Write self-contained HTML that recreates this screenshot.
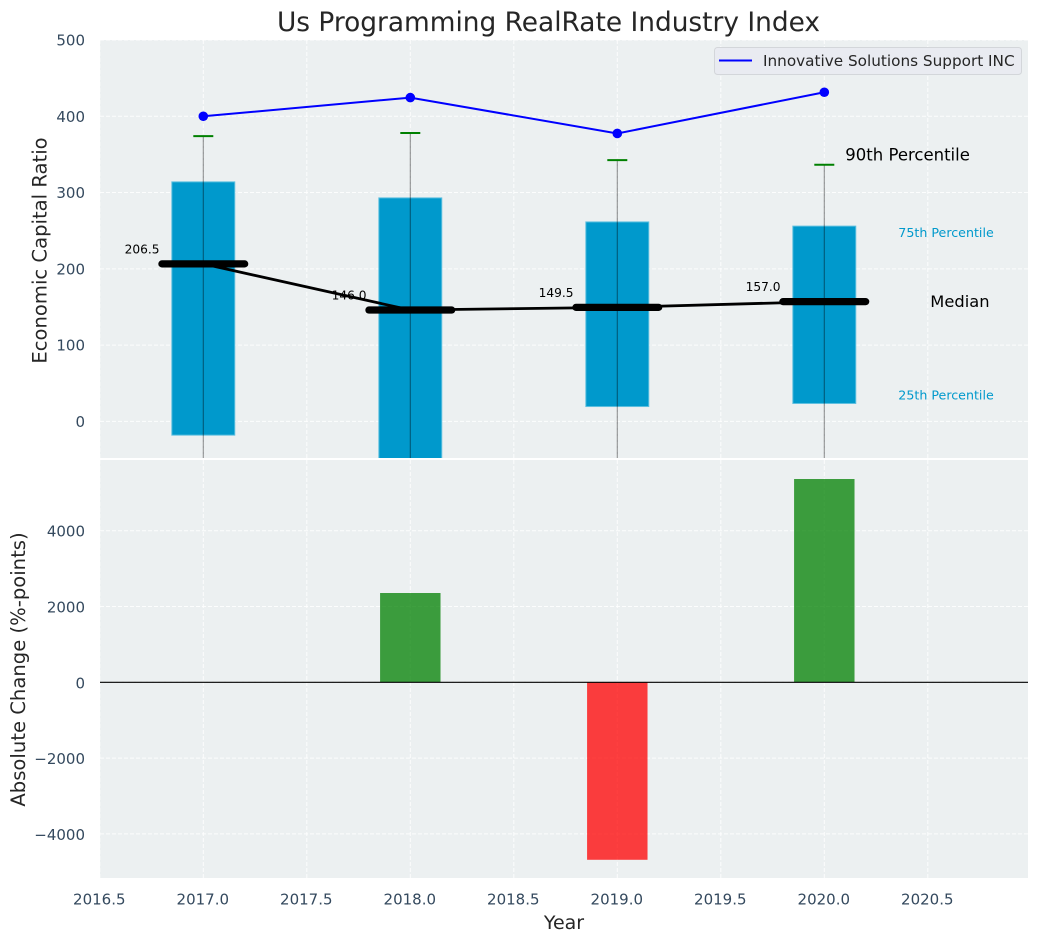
<!DOCTYPE html>
<html lang="en">
<head>
<meta charset="utf-8">
<title>Us Programming RealRate Industry Index</title>
<style>
html,body{margin:0;padding:0;background:#fff;}
svg{display:block;font-family:"DejaVu Sans","Liberation Sans",sans-serif;}
</style>
</head>
<body>
<svg id="chart" xmlns="http://www.w3.org/2000/svg" width="1039" height="942" viewBox="0 0 1039 942">
  <defs>
    <clipPath id="top-clip"><rect x="100" y="40" width="928" height="418"></rect></clipPath>
    <clipPath id="bottom-clip"><rect x="100" y="460" width="928" height="418"></rect></clipPath>
  </defs>
  <rect x="100" y="40" width="928" height="418" fill="#ecf0f1"></rect>
  <rect x="100" y="460" width="928" height="418" fill="#ecf0f1"></rect>
  <g id="grid-top"></g>
  <g id="grid-bottom"></g>
  <g id="boxes" clip-path="url(#top-clip)"></g>
  <g id="whiskers" clip-path="url(#top-clip)"></g>
  <g id="median-labels"></g>
  <g id="medians" clip-path="url(#top-clip)"></g>
  <g id="company" clip-path="url(#top-clip)"></g>
  <g id="annotations"></g>
  <g id="changes" clip-path="url(#bottom-clip)"></g>
  <g id="ticks"></g>

  <text x="548.5" y="31" text-anchor="middle" font-size="26.4" fill="#262626">Us Programming RealRate Industry Index</text>
  <text transform="translate(46.5,250.5) rotate(-90)" text-anchor="middle" font-size="19.6" fill="#262626">Economic Capital Ratio</text>
  <text transform="translate(25,669.5) rotate(-90)" text-anchor="middle" font-size="19.6" fill="#262626">Absolute Change (%-points)</text>
  <text x="564" y="929" text-anchor="middle" font-size="19" fill="#262626">Year</text>

  <g>
    <rect x="714.5" y="47.5" width="307" height="27" rx="3" fill="#e9ebf1" stroke="#d3d6da" stroke-width="1"></rect>
    <line x1="719" y1="60.5" x2="752" y2="60.5" stroke="#0000ff" stroke-width="2"></line>
    <text x="763" y="66" font-size="15.25" fill="#262626">Innovative Solutions Support INC</text>
  </g>
</svg>
<script>
const years = [2017, 2018, 2019, 2020];
const companyValues = [400, 424.5, 377.5, 431.5];
const p90Values = [374, 378, 342.5, 336.5];
const p75Values = [314, 293, 261.5, 256];
const medianValues = [206.5, 146.0, 149.5, 157.0];
const p25Values = [-18, -70, 19.5, 23.5];
const p10Values = [-90, -110, -80, -75];
const changeValues = [0, 2356, -4683, 5364];
const topTicks = [0, 100, 200, 300, 400, 500];
const bottomTicks = [-4000, -2000, 0, 2000, 4000];
const xTicks = [2016.5, 2017, 2017.5, 2018, 2018.5, 2019, 2019.5, 2020, 2020.5];

const NS = 'http://www.w3.org/2000/svg';
const xScale = v => 203.3 + (v - 2017) * 207;
const yTop = v => 421.4 - v * 0.7628;
const yBottom = v => 682.3 - v * 0.0379;

function make(parentId, tag, attrs, text) {
  const el = document.createElementNS(NS, tag);
  for (const k in attrs) el.setAttribute(k, attrs[k]);
  if (text !== undefined) el.textContent = text;
  document.getElementById(parentId).appendChild(el);
  return el;
}

const gridStyle = { stroke: '#ffffff', 'stroke-width': 1, 'stroke-dasharray': '4 2', 'stroke-opacity': 0.85 };

topTicks.forEach(t => {
  const g = make('grid-top', 'line', Object.assign({ x1: 100, x2: 1028, y1: yTop(t), y2: yTop(t) }, gridStyle));
  
  
  const l = make('ticks', 'text', { x: 85, y: yTop(t) + 5.5, 'text-anchor': 'end', 'font-size': 15, fill: '#34495e' }, String(t));
  
  
});

bottomTicks.forEach(t => {
  const g = make('grid-bottom', 'line', Object.assign({ x1: 100, x2: 1028, y1: yBottom(t), y2: yBottom(t) }, gridStyle));
  
  
  const l = make('ticks', 'text', { x: 85, y: yBottom(t) + 6, 'text-anchor': 'end', 'font-size': 15, fill: '#34495e' }, String(t).replace('-', '\u2212'));
  
  
});

xTicks.forEach(t => {
  const a = make('grid-top', 'line', Object.assign({ x1: xScale(t), x2: xScale(t), y1: 40, y2: 458 }, gridStyle));
  
  
  const b = make('grid-bottom', 'line', Object.assign({ x1: xScale(t), x2: xScale(t), y1: 460, y2: 878 }, gridStyle));
  
  
  const l = make('ticks', 'text', { x: xScale(t) - 0.5, y: 904.5, 'text-anchor': 'middle', 'font-size': 15, fill: '#34495e' }, t.toFixed(1));
  
  
});

const boxHalf = 0.152;
years.forEach((yr, i) => {
  const box = make('boxes', 'rect', {
    x: xScale(yr - boxHalf),
    y: yTop(p75Values[i]),
    width: xScale(yr + boxHalf) - xScale(yr - boxHalf),
    height: yTop(p25Values[i]) - yTop(p75Values[i]),
    fill: '#0099cc',
    stroke: '#5cbfdf',
    'stroke-width': 1
  });
  
  

  const whisker = make('whiskers', 'line', {
    x1: xScale(yr), x2: xScale(yr),
    y1: yTop(p90Values[i]), y2: yTop(p10Values[i]),
    stroke: '#000000', 'stroke-opacity': 0.42, 'stroke-width': 1.1
  });
  
  

  const cap = make('whiskers', 'line', {
    x1: xScale(yr) - 10, x2: xScale(yr) + 10,
    y1: yTop(p90Values[i]), y2: yTop(p90Values[i]),
    stroke: '#008000', 'stroke-width': 2
  });
  
  

  const label = make('median-labels', 'text', {
    x: xScale(yr) - 43.8,
    y: yTop(medianValues[i]) - 10.5,
    'text-anchor': 'end', 'font-size': 12.2, fill: '#000000'
  }, medianValues[i].toFixed(1));
  
  
});

const medianLine = make('medians', 'polyline', {
  points: years.map((yr, i) => xScale(yr) + ',' + yTop(medianValues[i])).join(' '),
  fill: 'none', stroke: '#000000', 'stroke-width': 2.8
});



years.forEach((yr, i) => {
  const bar = make('medians', 'line', {
    x1: xScale(yr - 0.2), x2: xScale(yr + 0.2),
    y1: yTop(medianValues[i]), y2: yTop(medianValues[i]),
    stroke: '#000000', 'stroke-width': 7.2, 'stroke-linecap': 'round'
  });
  
  
});

const companyLine = make('company', 'polyline', {
  points: years.map((yr, i) => xScale(yr) + ',' + yTop(companyValues[i])).join(' '),
  fill: 'none', stroke: '#0000ff', 'stroke-width': 2
});



years.forEach((yr, i) => {
  const dot = make('company', 'circle', { cx: xScale(yr), cy: yTop(companyValues[i]), r: 4.8, fill: '#0000ff' });
  
  
});

const lastX = xScale(years[years.length - 1]);
const last = years.length - 1;
const a90 = make('annotations', 'text', { x: lastX + 21, y: yTop(p90Values[last]) - 4, 'font-size': 16.5, fill: '#000000' }, '90th Percentile');


const a75 = make('annotations', 'text', { x: lastX + 74, y: yTop(p75Values[last]) + 11, 'font-size': 12.65, fill: '#0099cc' }, '75th Percentile');


const a50 = make('annotations', 'text', { x: lastX + 106, y: yTop(medianValues[last]) + 5.5, 'font-size': 16.3, fill: '#000000' }, 'Median');


const a25 = make('annotations', 'text', { x: lastX + 74, y: yTop(p25Values[last]) - 4, 'font-size': 12.65, fill: '#0099cc' }, '25th Percentile');



years.forEach((yr, i) => {
  const v = changeValues[i];
  if (v === 0) return;
  const bar = make('changes', 'rect', {
    x: xScale(yr - 0.146),
    y: Math.min(yBottom(v), yBottom(0)),
    width: xScale(yr + 0.146) - xScale(yr - 0.146),
    height: Math.abs(yBottom(v) - yBottom(0)),
    fill: v >= 0 ? '#008000' : '#ff0000',
    'fill-opacity': 0.75
  });
  
  
});

const zeroLine = make('changes', 'line', { x1: 100, x2: 1028, y1: yBottom(0), y2: yBottom(0), stroke: '#000000', 'stroke-width': 1.2 });


</script>
</body>
</html>
